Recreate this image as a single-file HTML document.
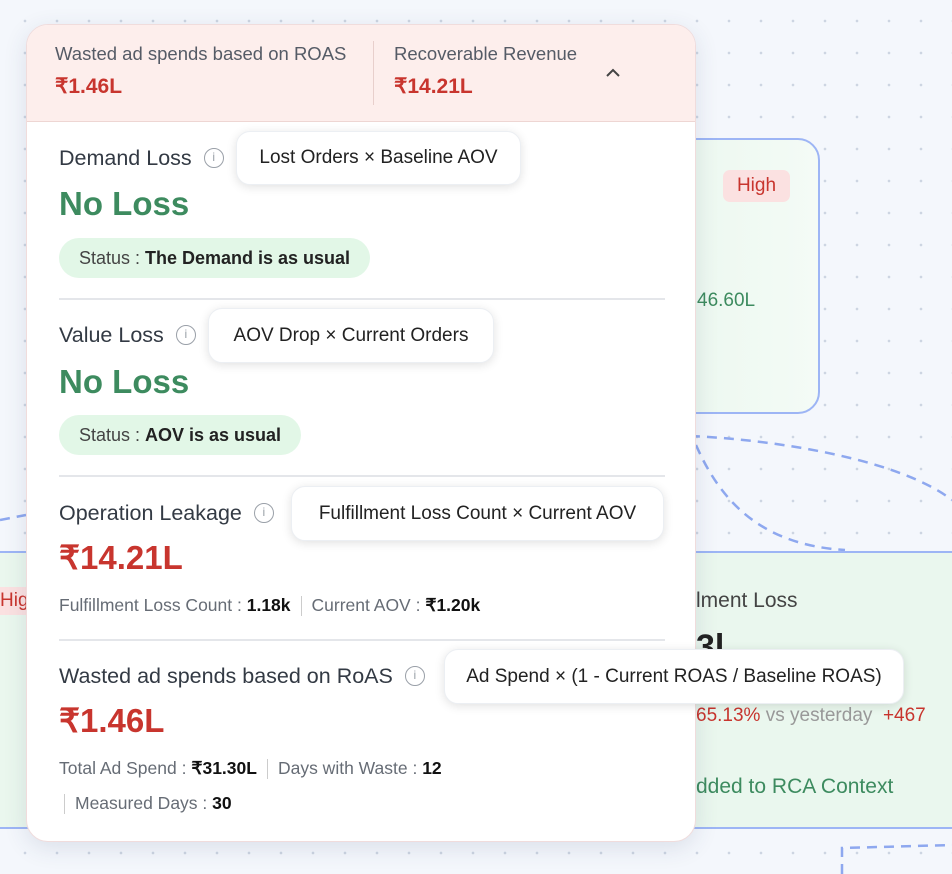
<!DOCTYPE html>
<html><head><meta charset="utf-8"><style>
*{box-sizing:border-box;margin:0;padding:0}
body{width:952px;height:874px;overflow:hidden;position:relative;font-family:"Liberation Sans",sans-serif;background:#f4f7fc;background-image:radial-gradient(circle,#cdd5e2 1.2px,transparent 1.5px);background-size:32px 32px;background-position:9px 5px}
.a{position:absolute;white-space:nowrap}
.t{line-height:24px}
.card{position:absolute;left:26px;top:24px;width:670px;height:818px;background:#fff;border-radius:22px;box-shadow:0 6px 24px rgba(40,60,100,.12);overflow:hidden;border:1px solid #f0dcdc}
.hdr{position:absolute;left:0;top:0;width:100%;height:97px;background:#fdeeec;border-bottom:1px solid #eed6d3}
.lbl{font-size:18.5px;color:#555b66}
.red{color:#c8352e;font-weight:bold}
.h{font-size:21.5px;color:#333a44;display:flex;align-items:center}
.big{font-size:33px;font-weight:bold;line-height:40px}
.green{color:#3d8b5f}
.tip{position:absolute;background:#fff;border-radius:14px;box-shadow:0 2px 10px rgba(0,0,0,.12);border:1px solid #eceff3;font-size:19px;color:#222;display:flex;align-items:center;justify-content:center}
.pill{position:absolute;background:#e2f7e7;border-radius:20px;font-size:18px;color:#444;display:flex;align-items:center;justify-content:center}
.pill b{color:#222;margin-left:5px}
.div{position:absolute;left:32px;width:606px;height:2px;background:#e4e6ea}
.info{display:inline-block;width:20px;height:20px;border:1.5px solid #9aa0a8;border-radius:50%;color:#9aa0a8;font-size:12px;text-align:center;line-height:17px;margin-left:12px}
.meta{font-size:17.5px;color:#666c75}
.meta b{color:#111}
.sep{display:inline-block;width:1px;height:20px;background:#ccc;vertical-align:middle;margin:0 10px}
</style></head><body>
<svg class="a" style="left:0;top:0" width="952" height="874">
<path d="M690 436 C780 440 900 460 952 500" stroke="#8ea8ef" stroke-width="2.5" fill="none" stroke-dasharray="10 7"/>
<path d="M696 445 C720 500 760 545 845 550" stroke="#8ea8ef" stroke-width="2.5" fill="none" stroke-dasharray="10 7"/>
<path d="M0 520 L26 515" stroke="#8ea8ef" stroke-width="2.5" fill="none" stroke-dasharray="10 7"/>
<path d="M842 874 L842 848 L952 845" stroke="#8ea8ef" stroke-width="2.5" fill="none" stroke-dasharray="10 7"/>
</svg>
<div class="a" style="left:640px;top:138px;width:180px;height:276px;border:2px solid #9db5f5;border-radius:22px;background:linear-gradient(90deg,#eaf7ee,#f4fbf6)"></div>
<div class="a" style="left:723px;top:170px;width:67px;height:32px;background:#fbe1e1;border-radius:7px;color:#c8352e;font-size:19px;line-height:32px;text-align:center">High</div>
<div class="a t" style="left:697px;top:289px;font-size:19px;color:#3d8b5f">46.60L</div>
<div class="a" style="left:0;top:551px;width:952px;height:278px;background:#eaf7ee;border-top:2px solid #9db5f5;border-bottom:2px solid #9db5f5"></div>
<div class="a" style="left:0;top:587px;width:30px;height:28px;background:#fbe1e1;color:#c8352e;font-size:19px;line-height:28px">Hig</div>
<div class="a t" style="left:696px;top:589px;font-size:21px;color:#444">lment Loss</div>
<div class="a" style="left:696px;top:628px;font-size:34px;font-weight:bold;color:#222">3l</div>
<div class="a t" style="left:696px;top:704px;font-size:19px;color:#c8352e">65.13% <span style="color:#999">vs yesterday</span> &nbsp;+467</div>
<div class="a t" style="left:696px;top:775px;font-size:21px;color:#3d8b5f">dded to RCA Context</div>

<div class="card">
<div class="hdr">
<div class="a t lbl" style="left:28px;top:17px">Wasted ad spends based on ROAS</div>
<div class="a t red" style="left:28px;top:50px;font-size:21px">₹1.46L</div>
<div class="a" style="left:346px;top:16px;width:1px;height:64px;background:#e8cfcc"></div>
<div class="a t lbl" style="left:367px;top:17px">Recoverable Revenue</div>
<div class="a t red" style="left:367px;top:50px;font-size:21px">₹14.21L</div>
<div class="a" style="left:578px;top:40px;width:16px;height:16px"><svg width="16" height="12"><path d="M2 10 L8 4 L14 10" stroke="#444" stroke-width="2" fill="none"/></svg></div>
</div>

<div class="a t h" style="left:32px;top:121px">Demand Loss<span class="info">i</span></div>
<div class="a big green" style="left:32px;top:159px">No Loss</div>
<div class="pill" style="left:32px;top:213px;width:311px;height:40px">Status :<b>The Demand is as usual</b></div>
<div class="div" style="top:273px"></div>

<div class="a t h" style="left:32px;top:298px">Value Loss<span class="info">i</span></div>
<div class="a big green" style="left:32px;top:337px">No Loss</div>
<div class="pill" style="left:32px;top:390px;width:242px;height:40px">Status :<b>AOV is as usual</b></div>
<div class="div" style="top:450px"></div>

<div class="a t h" style="left:32px;top:476px">Operation Leakage<span class="info">i</span></div>
<div class="a big red" style="left:32px;top:513px">₹14.21L</div>
<div class="a t meta" style="left:32px;top:568px">Fulfillment Loss Count : <b>1.18k</b><span class="sep"></span>Current AOV : <b>₹1.20k</b></div>
<div class="div" style="top:614px"></div>

<div class="a t h" style="left:32px;top:639px">Wasted ad spends based on RoAS<span class="info">i</span></div>
<div class="a big red" style="left:32px;top:676px">₹1.46L</div>
<div class="a t meta" style="left:32px;top:731px">Total Ad Spend : <b>₹31.30L</b><span class="sep"></span>Days with Waste : <b>12</b></div>
<div class="a t meta" style="left:32px;top:766px"><span class="sep" style="margin-left:5px"></span>Measured Days : <b>30</b></div>
</div>

<div class="tip" style="left:236px;top:131px;width:285px;height:54px">Lost Orders × Baseline AOV</div>
<div class="tip" style="left:208px;top:308px;width:286px;height:55px">AOV Drop × Current Orders</div>
<div class="tip" style="left:291px;top:486px;width:373px;height:55px">Fulfillment Loss Count × Current AOV</div>
<div class="tip" style="left:444px;top:649px;width:460px;height:55px">Ad Spend × (1 - Current ROAS / Baseline ROAS)</div>
</body></html>
